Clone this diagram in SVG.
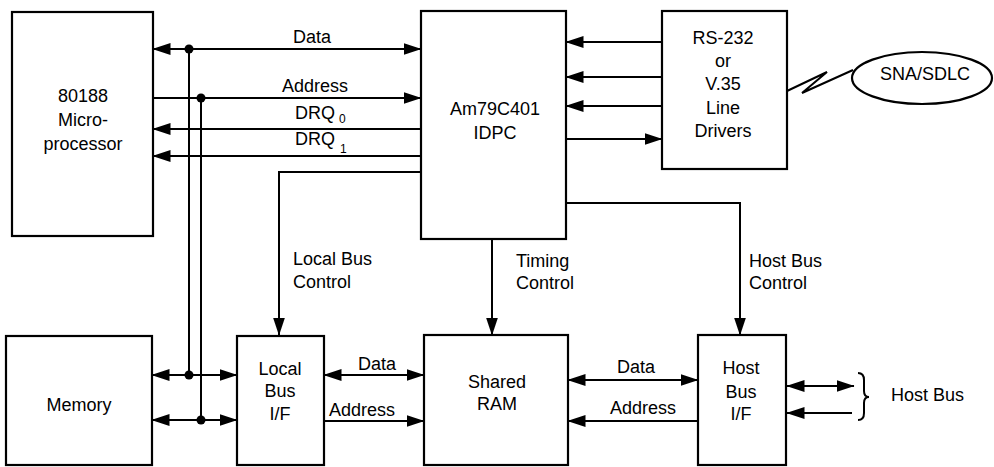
<svg xmlns="http://www.w3.org/2000/svg" width="994" height="467" viewBox="0 0 994 467">
<style>
.box{fill:#fff;stroke:#000;stroke-width:2.2}
.ln{fill:none;stroke:#000;stroke-width:2}
.t{font-family:"Liberation Sans",Arial,Helvetica,sans-serif;font-size:18px;fill:#000}
.c{text-anchor:middle}
.sub{font-size:12px}
.dot{fill:#000}
</style>
<defs>
<marker id="ah" viewBox="0 0 18 12" markerWidth="18" markerHeight="12" refX="17.5" refY="6" orient="auto-start-reverse" markerUnits="userSpaceOnUse">
<path d="M0,0 L18,6 L0,12 z" fill="#000"/>
</marker>
</defs>
<rect width="994" height="467" fill="#fff"/>

<g id="cpu">
<rect class="box" x="12" y="12" width="141" height="224"/>
<text class="t c" x="83" y="102">80188</text>
<text class="t c" x="83" y="126">Micro-</text>
<text class="t c" x="83" y="150">processor</text>
</g>
<g id="idpc">
<rect class="box" x="421" y="11" width="145" height="228"/>
<text class="t c" x="495" y="115">Am79C401</text>
<text class="t c" x="495" y="139">IDPC</text>
</g>
<g id="linedrivers">
<rect class="box" x="662" y="11" width="125" height="158"/>
<text class="t c" x="723" y="44">RS-232</text>
<text class="t c" x="723" y="67">or</text>
<text class="t c" x="723" y="90">V.35</text>
<text class="t c" x="723" y="114">Line</text>
<text class="t c" x="723" y="137">Drivers</text>
</g>
<g id="sna">
<ellipse class="box" cx="922" cy="78" rx="70" ry="26"/>
<text class="t c" x="925" y="80">SNA/SDLC</text>
</g>
<g id="memory">
<rect class="box" x="6" y="336" width="146" height="129"/>
<text class="t c" x="79" y="411">Memory</text>
</g>
<g id="localbus">
<rect class="box" x="237" y="336" width="87" height="129"/>
<text class="t c" x="280" y="375">Local</text>
<text class="t c" x="280" y="397">Bus</text>
<text class="t c" x="280" y="420">I/F</text>
</g>
<g id="sharedram">
<rect class="box" x="424" y="335" width="144" height="130"/>
<text class="t c" x="497" y="388">Shared</text>
<text class="t c" x="497" y="410">RAM</text>
</g>
<g id="hostbusif">
<rect class="box" x="698" y="335" width="88" height="130"/>
<text class="t c" x="741" y="374">Host</text>
<text class="t c" x="741" y="398">Bus</text>
<text class="t c" x="741" y="420">I/F</text>
</g>
<g id="hostbus">
<path class="ln" d="M858,373 Q864,373 864,380 L864,391 Q864,397 869,397 Q864,397 864,403 L864,413 Q864,420 858,420"/>
<text class="t" x="891" y="401">Host Bus</text>
</g>

<g id="connectors">
<path class="ln" d="M153,49 H421" marker-start="url(#ah)" marker-end="url(#ah)"/>
<path class="ln" d="M153,98 H421" marker-end="url(#ah)"/>
<path class="ln" d="M421,129 H153" marker-end="url(#ah)"/>
<path class="ln" d="M421,156 H153" marker-end="url(#ah)"/>
<path class="ln" d="M189,49 V375"/>
<path class="ln" d="M201,98 V420"/>
<circle class="dot" cx="189" cy="49" r="4.5"/>
<circle class="dot" cx="201" cy="98" r="4.5"/>
<circle class="dot" cx="189" cy="375" r="4.5"/>
<circle class="dot" cx="201" cy="420" r="4.5"/>
<path class="ln" d="M152,375 H237" marker-start="url(#ah)" marker-end="url(#ah)"/>
<path class="ln" d="M152,420 H237" marker-start="url(#ah)" marker-end="url(#ah)"/>
<path class="ln" d="M421,172 H279 V335" marker-end="url(#ah)"/>
<path class="ln" d="M492,239 V335" marker-end="url(#ah)"/>
<path class="ln" d="M566,203 H740 V335" marker-end="url(#ah)"/>
<path class="ln" d="M662,42 H566" marker-end="url(#ah)"/>
<path class="ln" d="M662,77 H566" marker-end="url(#ah)"/>
<path class="ln" d="M662,106 H566" marker-end="url(#ah)"/>
<path class="ln" d="M566,139 H662" marker-end="url(#ah)"/>
<polyline class="ln" points="787,91 827,72 802,93 853,70"/>
<path class="ln" d="M324,375 H424" marker-start="url(#ah)" marker-end="url(#ah)"/>
<path class="ln" d="M324,421 H424" marker-end="url(#ah)"/>
<path class="ln" d="M568,380 H698" marker-start="url(#ah)" marker-end="url(#ah)"/>
<path class="ln" d="M698,421 H568" marker-end="url(#ah)"/>
<path class="ln" d="M787,386 H854" marker-start="url(#ah)" marker-end="url(#ah)"/>
<path class="ln" d="M852,413 H787" marker-end="url(#ah)"/>
</g>

<g id="labels">
<text class="t c" x="312" y="43">Data</text>
<text class="t c" x="315" y="92">Address</text>
<text class="t" x="295" y="119">DRQ<tspan class="sub" x="339" y="123">0</tspan></text>
<text class="t" x="295" y="145">DRQ<tspan class="sub" x="340" y="153">1</tspan></text>
<text class="t" x="293" y="265">Local Bus</text>
<text class="t" x="293" y="288">Control</text>
<text class="t" x="516" y="267">Timing</text>
<text class="t" x="516" y="289">Control</text>
<text class="t" x="749" y="267">Host Bus</text>
<text class="t" x="749" y="289">Control</text>
<text class="t c" x="377" y="370">Data</text>
<text class="t c" x="362" y="416">Address</text>
<text class="t c" x="636" y="373">Data</text>
<text class="t c" x="643" y="414">Address</text>
</g>
</svg>
